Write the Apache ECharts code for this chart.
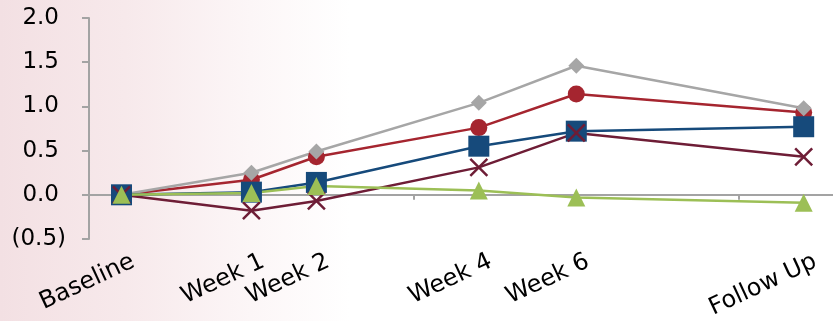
<!DOCTYPE html>
<html>
<head>
<meta charset="utf-8">
<script src="https://cdn.jsdelivr.net/npm/echarts@6/dist/echarts.min.js"></script>
<style>
  html, body { margin: 0; padding: 0; background: #fff; }
  #chart { width: 833px; height: 321px; }
</style>
</head>
<body>
<div id="chart"></div>
<script>
// Study day of each visit and its label
const visitDays = [3, 15, 21, 36, 45, 66];
const visitLabels = ['Baseline', 'Week 1', 'Week 2', 'Week 4', 'Week 6', 'Follow Up'];

// Change from baseline for each group
const grayDiamond = [0, 0.25, 0.49, 1.04, 1.46, 0.98];
const redCircle   = [0, 0.17, 0.43, 0.76, 1.14, 0.93];
const blueSquare  = [0, 0.03, 0.14, 0.55, 0.72, 0.77];
const maroonCross = [0, -0.18, -0.07, 0.31, 0.70, 0.43];
const greenTri    = [0, 0.02, 0.10, 0.05, -0.03, -0.09];

// Value axis ticks
const yMin = -0.5, yMax = 2.0, yStep = 0.5;
const xTickDays = [30, 60];

const pair = arr => visitDays.map((d, i) => [d, arr[i]]);
const labelFor = v => {
  const i = visitDays.indexOf(v);
  return i >= 0 ? visitLabels[i] : '';
};

const FONT = 'DejaVu Sans';
const crossPath = 'path://M0,0 L10,10 M10,0 L0,10';

function lineSeries(name, data, color, symbol, size, extra) {
  return Object.assign({
    name, type: 'line', data: pair(data),
    xAxisIndex: 0, yAxisIndex: 0,
    symbol, symbolSize: size,
    lineStyle: { color, width: 2.5 },
    itemStyle: { color },
    emphasis: { disabled: true },
    animation: false
  }, extra || {});
}

const chart = echarts.init(document.getElementById('chart'));
chart.setOption({
  backgroundColor: {
    type: 'linear', x: 0, y: 0, x2: 1, y2: 0,
    colorStops: [
      { offset: 0, color: '#f3e0e3' },
      { offset: 0.15, color: '#f7e9eb' },
      { offset: 0.3, color: '#fcf6f7' },
      { offset: 0.42, color: '#ffffff' },
      { offset: 1, color: '#ffffff' }
    ]
  },
  textStyle: { fontFamily: FONT },
  grid: {
    left: 89, right: -14, top: 18, bottom: 82,
    containLabel: false, outerBoundsMode: 'none'
  },
  xAxis: [
    {
      type: 'value', min: 0, max: 70, position: 'bottom',
      axisLine: { show: true, onZero: true, lineStyle: { color: '#a3a3a3', width: 2 } },
      axisTick: { show: true, inside: false, length: 5, customValues: xTickDays,
                  lineStyle: { color: '#a3a3a3', width: 2 } },
      axisLabel: { show: false },
      splitLine: { show: false }
    },
    {
      type: 'value', min: 0, max: 70, position: 'bottom',
      axisLine: { show: false, onZero: false },
      axisTick: { show: false },
      splitLine: { show: false },
      axisLabel: {
        show: true, customValues: visitDays, rotate: 25, margin: 27,
        padding: [0, -13, 0, 0],
        color: '#000', fontSize: 24, fontFamily: FONT,
        formatter: v => labelFor(v)
      }
    }
  ],
  yAxis: {
    type: 'value', min: yMin, max: yMax, interval: yStep,
    axisLine: { show: true, onZero: false, lineStyle: { color: '#a3a3a3', width: 2 } },
    axisTick: { show: true, length: 7, lineStyle: { color: '#a3a3a3', width: 2 } },
    splitLine: { show: false },
    axisLabel: {
      margin: 23, color: '#000', fontSize: 23, fontFamily: FONT,
      formatter: v => v < 0 ? '(' + Math.abs(v).toFixed(1) + ')' : '{p|' + v.toFixed(1) + '}',
      rich: { p: { fontSize: 23, fontFamily: FONT, color: '#000', padding: [0, 7, 0, 0] } }
    }
  },
  series: [
    lineSeries('Group B', redCircle, '#a5252f', 'circle', 17),
    lineSeries('Group A', grayDiamond, '#a6a6a6', 'diamond', 16),
    lineSeries('Group C', blueSquare, '#164a7b', 'rect', 21),
    lineSeries('Group D', maroonCross, '#6e1d36', crossPath, 17, {
      itemStyle: { color: '#6e1d36', borderColor: '#6e1d36', borderWidth: 2.5 }
    }),
    lineSeries('Group E', greenTri, '#9cbf56', 'triangle', 18)
  ]
});
</script>
</body>
</html>
